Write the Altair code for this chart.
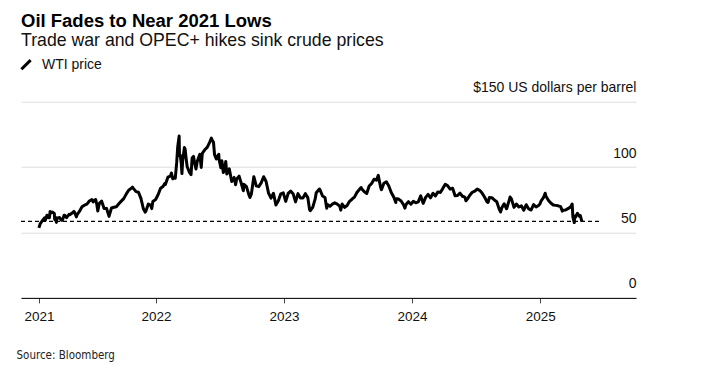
import altair as alt
import pandas as pd

# ---- WTI price (US dollars per barrel) ----
dates_2021 = ["2021-02-01","2021-02-05","2021-02-10","2021-02-12","2021-02-17","2021-02-19","2021-02-24","2021-02-26",
              "2021-03-03","2021-03-05","2021-03-08","2021-03-12","2021-03-17","2021-03-18","2021-03-19","2021-03-23",
              "2021-03-24","2021-03-26","2021-04-01","2021-04-06","2021-04-09","2021-04-14","2021-04-16","2021-04-21",
              "2021-04-23","2021-04-28","2021-04-30","2021-05-07","2021-05-12","2021-05-14","2021-05-19","2021-05-21",
              "2021-05-28","2021-06-04","2021-06-11","2021-06-18","2021-06-25","2021-07-02","2021-07-06","2021-07-09",
              "2021-07-13","2021-07-16","2021-07-19","2021-07-23","2021-07-30","2021-08-06","2021-08-13","2021-08-20",
              "2021-08-27","2021-09-03","2021-09-10","2021-09-17","2021-09-24","2021-10-01","2021-10-08","2021-10-15",
              "2021-10-22","2021-10-26","2021-10-29","2021-11-05","2021-11-12","2021-11-19","2021-11-26","2021-12-01",
              "2021-12-03","2021-12-10","2021-12-17","2021-12-20","2021-12-23","2021-12-31"]
wti_2021 = [53.55,56.85,58.68,59.47,61.14,59.24,63.22,61.50,
            61.28,66.09,65.05,65.61,64.60,60.00,61.42,57.76,
            61.18,60.97,61.45,59.33,59.32,63.15,63.13,61.35,
            62.14,63.86,63.58,64.90,66.08,65.37,61.96,63.58,
            66.32,69.62,70.91,71.64,74.05,75.16,73.37,74.56,
            75.25,71.81,66.42,72.07,73.95,68.28,68.44,62.32,
            68.74,69.29,69.72,71.97,73.98,75.88,79.35,82.28,
            83.76,84.65,83.57,81.27,80.79,76.10,68.15,65.57,
            66.26,71.67,70.86,68.23,73.79,75.21]

dates_2022 = ["2022-01-07","2022-01-14","2022-01-21","2022-01-26","2022-01-28","2022-02-04","2022-02-11","2022-02-14",
              "2022-02-18","2022-02-23","2022-02-25","2022-03-01","2022-03-04","2022-03-08","2022-03-09","2022-03-11",
              "2022-03-14","2022-03-16","2022-03-18","2022-03-23","2022-03-25","2022-03-29","2022-03-31","2022-04-06",
              "2022-04-11","2022-04-14","2022-04-18","2022-04-22","2022-04-25","2022-04-29","2022-05-06","2022-05-10",
              "2022-05-13","2022-05-20","2022-05-27","2022-06-03","2022-06-08","2022-06-10","2022-06-14","2022-06-17",
              "2022-06-22","2022-06-24","2022-06-29","2022-06-30","2022-07-05","2022-07-08","2022-07-12","2022-07-15",
              "2022-07-19","2022-07-22","2022-07-29","2022-08-05","2022-08-12","2022-08-16","2022-08-19","2022-08-26",
              "2022-09-02","2022-09-07","2022-09-09","2022-09-16","2022-09-23","2022-09-26","2022-09-30","2022-10-07",
              "2022-10-14","2022-10-21","2022-10-28","2022-11-04","2022-11-11","2022-11-18","2022-11-25","2022-12-02",
              "2022-12-09","2022-12-16","2022-12-23","2022-12-30"]
wti_2022 = [78.90,83.82,85.14,87.35,86.82,92.31,93.10,95.46,
            91.07,92.10,91.59,103.41,115.68,123.70,108.70,109.33,
            103.01,95.04,104.70,114.93,113.90,104.24,100.28,96.23,
            94.29,106.95,108.21,102.07,98.54,104.69,109.77,99.76,
            110.49,113.23,115.07,118.87,122.11,120.67,118.93,109.56,
            106.19,107.62,109.78,105.76,99.50,104.79,95.84,97.59,
            104.22,94.70,98.62,89.01,92.09,86.53,90.77,93.06,
            86.87,81.94,86.79,85.11,78.74,76.71,79.49,92.64,
            85.61,85.05,87.90,92.61,88.96,80.08,76.28,79.98,
            71.02,74.29,79.56,80.26]

dates_2023 = ["2023-01-06","2023-01-13","2023-01-20","2023-01-27","2023-02-03","2023-02-10","2023-02-17","2023-02-24",
              "2023-03-03","2023-03-10","2023-03-15","2023-03-17","2023-03-24","2023-03-31","2023-04-03","2023-04-12",
              "2023-04-14","2023-04-21","2023-04-28","2023-05-03","2023-05-05","2023-05-12","2023-05-19","2023-05-26",
              "2023-06-02","2023-06-09","2023-06-12","2023-06-16","2023-06-23","2023-06-30","2023-07-07","2023-07-14",
              "2023-07-21","2023-07-28","2023-08-04","2023-08-09","2023-08-11","2023-08-18","2023-08-25","2023-09-01",
              "2023-09-08","2023-09-15","2023-09-22","2023-09-27","2023-09-29","2023-10-04","2023-10-06","2023-10-13",
              "2023-10-20","2023-10-27","2023-11-03","2023-11-10","2023-11-16","2023-11-17","2023-11-24","2023-12-01",
              "2023-12-08","2023-12-12","2023-12-15","2023-12-22","2023-12-29"]
wti_2023 = [73.77,79.86,81.64,79.68,73.39,79.72,76.34,76.32,
            79.68,76.68,67.61,66.74,69.26,75.67,80.42,83.26,
            82.52,77.87,76.78,68.60,71.34,70.04,71.69,72.67,
            71.74,70.17,67.12,71.78,69.16,70.64,73.86,75.42,
            77.07,80.58,82.82,84.40,83.19,81.25,79.83,85.55,
            87.51,90.77,90.03,93.68,90.79,84.22,82.79,87.69,
            88.75,85.54,80.51,77.17,72.90,75.89,75.54,74.07,
            71.23,68.61,71.43,73.56,71.65]

dates_2024 = ["2024-01-05","2024-01-12","2024-01-19","2024-01-26","2024-02-02","2024-02-09","2024-02-16","2024-02-23",
              "2024-03-01","2024-03-08","2024-03-15","2024-03-22","2024-03-28","2024-04-05","2024-04-12","2024-04-19",
              "2024-04-26","2024-05-03","2024-05-10","2024-05-17","2024-05-24","2024-05-31","2024-06-03","2024-06-07",
              "2024-06-14","2024-06-21","2024-06-28","2024-07-05","2024-07-12","2024-07-19","2024-07-26","2024-08-02",
              "2024-08-05","2024-08-09","2024-08-16","2024-08-23","2024-08-30","2024-09-06","2024-09-10","2024-09-13",
              "2024-09-20","2024-09-27","2024-10-04","2024-10-07","2024-10-11","2024-10-18","2024-10-25","2024-11-01",
              "2024-11-08","2024-11-15","2024-11-22","2024-11-29","2024-12-06","2024-12-13","2024-12-20","2024-12-27",
              "2024-12-31"]
wti_2024 = [73.81,72.68,73.41,78.01,72.28,76.84,79.19,76.49,
            79.97,78.01,81.04,80.63,83.17,86.91,85.66,83.14,
            83.85,78.11,78.26,80.06,77.72,76.99,74.22,75.53,
            78.45,80.73,81.54,83.16,82.21,80.13,77.16,73.52,
            72.94,76.84,76.65,74.83,73.55,67.67,65.75,68.65,
            71.92,68.18,74.38,77.14,75.56,69.22,71.78,69.49,
            70.38,67.02,71.24,68.00,67.20,71.29,69.46,70.60,
            71.72]

dates_2025 = ["2025-01-03","2025-01-10","2025-01-15","2025-01-17","2025-01-24","2025-01-31","2025-02-07","2025-02-14",
              "2025-02-21","2025-02-28","2025-03-05","2025-03-07","2025-03-14","2025-03-21","2025-03-28","2025-04-02",
              "2025-04-03","2025-04-04","2025-04-08","2025-04-09","2025-04-11","2025-04-17","2025-04-23","2025-04-25",
              "2025-04-30"]
wti_2025 = [73.96,76.57,80.04,77.88,74.66,72.53,71.00,70.74,
            70.40,69.76,66.31,67.04,67.18,68.28,69.36,71.71,
            66.95,61.99,57.58,62.35,61.50,64.68,62.27,63.02,
            58.21]

# dashed reference level
ref_start = ["2020-12-12"]
ref_end = ["2025-06-20"]
ref_level = [58.5]

# axis ticks
x_tick_dates = [(2021, 2, 1), (2022, 1, 1), (2023, 1, 1), (2024, 1, 1), (2025, 1, 1)]
x_domain_dates = [(2020, 12, 12), (2025, 10, 1)]
y_ticks = [0, 50, 100, 150]
y_domain = [0, 150]

series_name = "WTI price"
FONT = "Liberation Sans"
NARROW = "Liberation Sans Narrow, DejaVu Sans Condensed, Roboto Condensed, Liberation Sans, sans-serif"

dates = dates_2021 + dates_2022 + dates_2023 + dates_2024 + dates_2025
prices = wti_2021 + wti_2022 + wti_2023 + wti_2024 + wti_2025
df = pd.DataFrame({"date": dates, "price": prices, "series": series_name})
ref = pd.DataFrame({"start": ref_start, "end": ref_end, "level": ref_level})

def dt(t):
    return alt.DateTime(year=t[0], month=t[1], date=t[2])

x_scale = alt.Scale(domain=[dt(t) for t in x_domain_dates], nice=False)
y_scale = alt.Scale(domain=y_domain, nice=False, zero=False)

x_axis = alt.Axis(
    values=[dt(t) for t in x_tick_dates],
    labelExpr="timeFormat(datum.value, '%Y')",
    title="Source: Bloomberg",
    titleAnchor="start", titleAlign="left", titleBaseline="alphabetic",
    titleX=-5, titleY=61, titleFont=NARROW, titleFontSize=11.5, titleFontWeight="normal",
    titleColor="#222",
    grid=False, domainColor="#000", domainWidth=1,
    tickColor="#444", tickSize=5, tickWidth=1,
    labelFont=FONT, labelFontSize=13.5, labelColor="#111", labelPadding=7,
    labelFlush=False, labelOverlap=False,
)
y_axis = alt.Axis(
    orient="right", values=y_ticks, title=None,
    labelExpr="datum.value == 150 ? '$150 US dollars per barrel' : datum.label",
    domain=False, ticks=False, tickSize=0,
    labelAlign="right", labelBaseline="alphabetic", labelOffset=-10, labelPadding=0,
    labelFont=FONT, labelFontSize=14, labelColor="#111",
    labelFlush=False, labelOverlap=False, labelBound=False,
    gridColor="#dedede", gridWidth=1,
)

line = alt.Chart(df).mark_line(strokeWidth=3, strokeJoin="round").encode(
    x=alt.X("date:T", scale=x_scale, axis=x_axis),
    y=alt.Y("price:Q", scale=y_scale, axis=y_axis),
    color=alt.Color(
        "series:N",
        scale=alt.Scale(range=["#000000"]),
        legend=alt.Legend(
            orient="none", legendX=-2, legendY=-44, title=None, padding=0,
            symbolType="M-1,1L1,-1", symbolStrokeWidth=3, symbolSize=85,
            symbolStrokeColor="#000", labelFont=FONT, labelFontSize=14,
            labelColor="#111", labelOffset=9,
        ),
    ),
)

rule = alt.Chart(ref).mark_rule(strokeDash=[4, 3], strokeWidth=1.3, color="#000").encode(
    x=alt.X("start:T", scale=x_scale, title="Source: Bloomberg"),
    x2="end:T",
    y=alt.Y("level:Q", scale=y_scale, title=None),
)

chart = alt.layer(rule, line).properties(
    width=615, height=196.2,
    autosize=alt.AutoSizeParams(type="none"),
    padding={"left": 13, "top": 93.7, "right": 40, "bottom": 66},
    title=alt.TitleParams(
        text="Oil Fades to Near 2021 Lows",
        subtitle="Trade war and OPEC+ hikes sink crude prices",
        anchor="start", frame="group", offset=7.5, subtitlePadding=2,
        font=FONT, fontSize=18.5, fontWeight="bold", color="#000",
        subtitleFont=FONT, subtitleFontSize=17.7, subtitleColor="#111",
    ),
).configure_view(stroke=None)

chart.save("out.html", embed_options={"renderer": "svg", "actions": False})
